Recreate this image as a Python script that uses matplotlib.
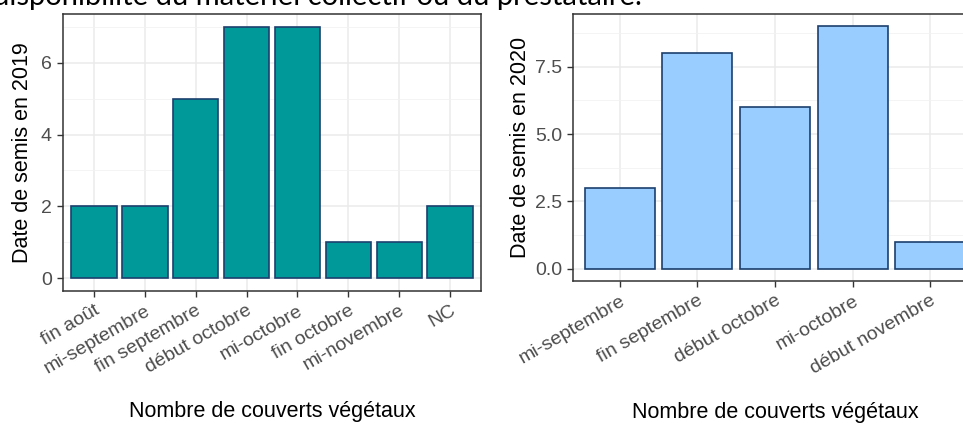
import matplotlib
matplotlib.use("Agg")
import matplotlib.pyplot as plt
from matplotlib.ticker import MultipleLocator

plt.rcParams['font.family'] = ['Liberation Sans', 'DejaVu Sans']

cats_2019 = ["fin août", "mi-septembre", "fin septembre", "début octobre",
             "mi-octobre", "fin octobre", "mi-novembre", "NC"]
vals_2019 = [2, 2, 5, 7, 7, 1, 1, 2]

cats_2020 = ["mi-septembre", "fin septembre", "début octobre",
             "mi-octobre", "début novembre"]
vals_2020 = [3, 8, 6, 9, 1]

xlabel = "Nombre de couverts végétaux"
top_text = "disponibilité du matériel collectif ou du prestataire."

W, H = 963, 423
fig = plt.figure(figsize=(W / 100, H / 100), dpi=100)

def px_axes(x0, x1, ytop, ybot):
    return fig.add_axes([x0 / W, (H - ybot) / H, (x1 - x0) / W, (ybot - ytop) / H])

def style_panel(ax, cats, vals, fill, major, minor, ylab):
    pos = list(range(len(cats)))
    ax.bar(pos, vals, width=0.9, color=fill, edgecolor="#1c3f6e", linewidth=1.2, zorder=3)
    ax.set_xlim(-0.6, len(cats) - 0.4)
    top = max(vals)
    ax.set_ylim(-0.05 * top, top * 1.05)
    ax.yaxis.set_major_locator(MultipleLocator(major))
    ax.yaxis.set_minor_locator(MultipleLocator(minor))
    ax.set_xticks(pos)
    ax.set_xticklabels(cats, rotation=30, ha="right", va="top",
                       rotation_mode="anchor", fontsize=14, color="#4D4D4D")
    ax.tick_params(axis="both", which="major", length=4, width=1, color="#333333",
                   labelsize=14, labelcolor="#4D4D4D", pad=4)
    ax.tick_params(axis="y", which="minor", length=0)
    ax.grid(True, which="major", color="#EBEBEB", linewidth=1.1, zorder=0)
    ax.grid(True, which="minor", axis="y", color="#F2F2F2", linewidth=0.6, zorder=0)
    ax.set_axisbelow(True)
    for s in ax.spines.values():
        s.set_color("#333333")
        s.set_linewidth(1.1)
    ax.set_ylabel(ylab, fontsize=15.5, color="black", labelpad=6)
    ax.set_xlabel(xlabel, fontsize=15.5, color="black")

ax1 = px_axes(63, 481, 14, 291)
style_panel(ax1, cats_2019, vals_2019, "#009999", 2, 1, "Date de semis en 2019")
ax1.xaxis.set_label_coords(0.5, -(412 - 291) / 277)
ax1.xaxis.label.set_va("center")
ax1.yaxis.set_label_coords(-(63 - 23) / 418, 0.5)
ax1.yaxis.label.set_va("center")

ax2 = px_axes(573, 977, 14, 281)
style_panel(ax2, cats_2020, vals_2020, "#99CCFF", 2.5, 1.25, "Date de semis en 2020")
ax2.yaxis.set_major_formatter(plt.FuncFormatter(lambda v, p: f"{v:.1f}"))
ax2.xaxis.set_label_coords(0.5, -(412 - 281) / 267)
ax2.xaxis.label.set_va("center")
ax2.yaxis.set_label_coords(-(573 - 521) / 404, 0.5)
ax2.yaxis.label.set_va("center")

fig.text(642 / W, 1 - 5 / H, top_text, ha="right", va="baseline",
         fontsize=21, family=["Lato", "DejaVu Sans"], color="black")

fig.savefig("out.png", dpi=100)
